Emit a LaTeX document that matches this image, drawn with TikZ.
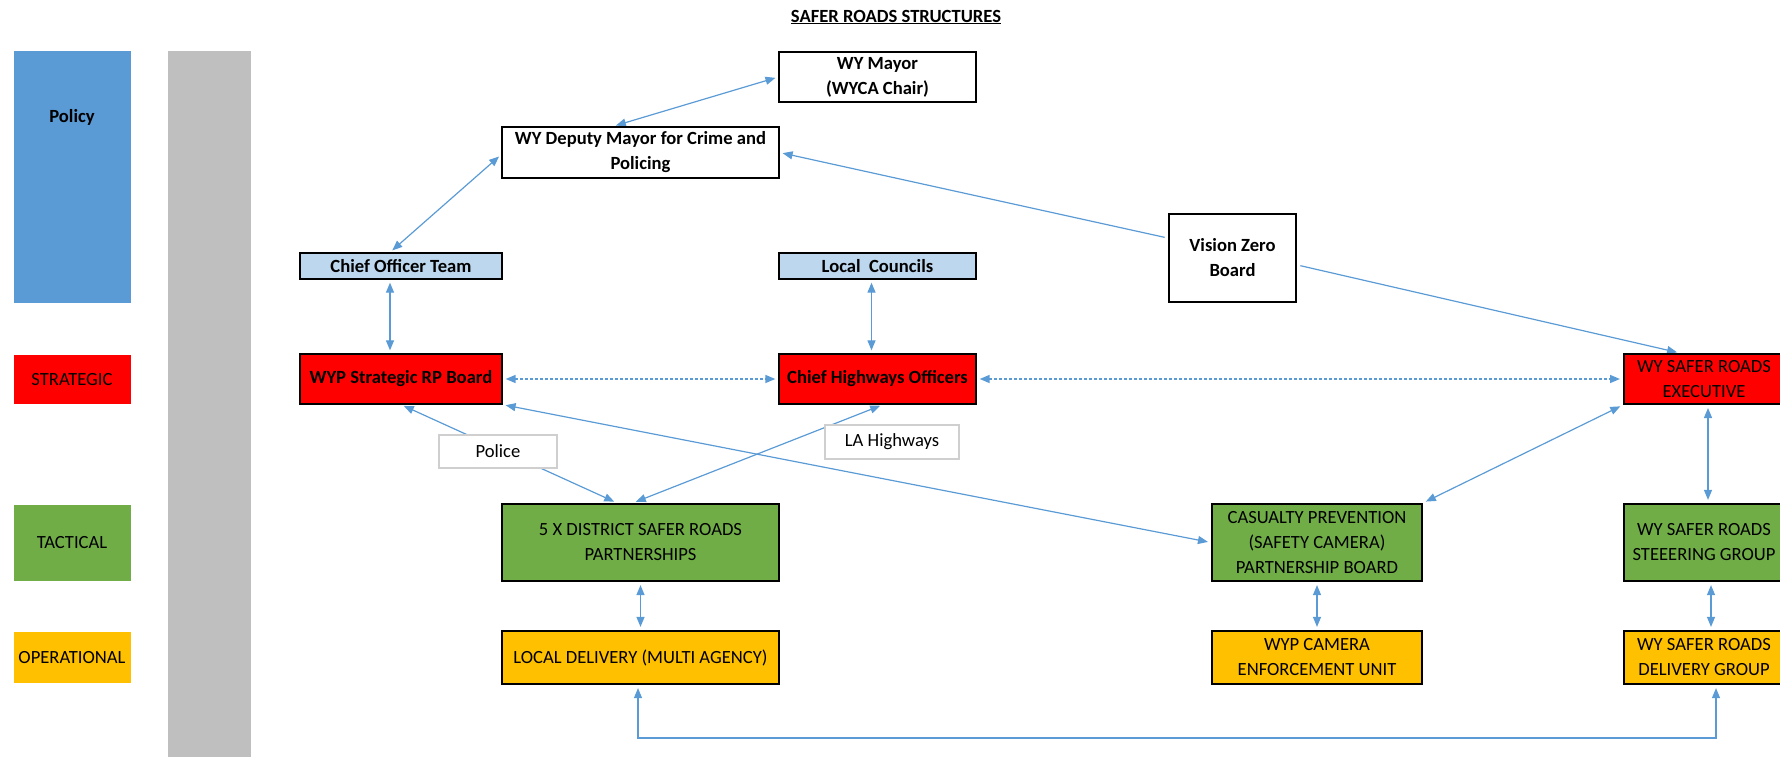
\documentclass[tikz,border=0pt]{standalone}
\usepackage{fontspec}
\setmainfont{Carlito}
\usetikzlibrary{arrows.meta,backgrounds}
\definecolor{polblue}{HTML}{5B9BD5}
\definecolor{lblue}{HTML}{BDD7EE}
\definecolor{sred}{HTML}{FF0000}
\definecolor{tgreen}{HTML}{70AD47}
\definecolor{oamber}{HTML}{FFC000}
\definecolor{bargray}{HTML}{BFBFBF}
\definecolor{conn}{HTML}{5B9BD5}
\definecolor{lblgray}{HTML}{CFCFCF}
\newcommand{\dfont}{\fontsize{18.6}{25}\selectfont}
\tikzset{
  txt/.style={font=\dfont, align=center, inner sep=0pt},
  box/.style={txt, draw=black, line width=1.3pt, rectangle},
  wbox/.style={box, fill=white, font=\dfont\bfseries},
  bluebox/.style={box, fill=lblue, font=\dfont\bfseries},
  redbox/.style={box, fill=sred, font=\dfont\bfseries},
  redplain/.style={box, fill=sred, line width=2pt},
  greenbox/.style={box, fill=tgreen, line width=2.2pt},
  amberbox/.style={box, fill=oamber, line width=2.2pt},
  lvl/.style={txt, rectangle, minimum width=117pt},
  tag/.style={txt, draw=lblgray, line width=1.5pt, fill=white},
  conn/.style={draw=conn, line width=1.2pt, shorten >=3pt, shorten <=3pt},
  biarrow/.style={conn, {Triangle[length=10pt,width=8pt]}-{Triangle[length=10pt,width=8pt]}},
  onearrow/.style={conn, -{Triangle[length=10pt,width=8pt]}},
  dasharrow/.style={biarrow, dash pattern=on 3pt off 2pt, line width=1.5pt}
}
\begin{document}
\begin{tikzpicture}[x=1pt,y=-1pt]
\useasboundingbox (0,0) rectangle (1780,757);

% title
\node[txt, font=\dfont\bfseries] (title) at (896,17) {\underline{SAFER ROADS STRUCTURES}};

% level column
\node[lvl, fill=polblue, minimum height=252pt] (policy) at (72,177) {};
\node[txt, font=\dfont\bfseries] (policytxt) at (72,117) {Policy};
\node[lvl, fill=sred, minimum height=49pt] (strategic) at (72,379.5) {STRATEGIC};
\node[lvl, fill=tgreen, minimum height=76pt] (tactical) at (72,543) {TACTICAL};
\node[lvl, fill=oamber, minimum height=51pt] (operational) at (72,657.5) {OPERATIONAL};
\node[rectangle, fill=bargray, minimum width=83pt, minimum height=712pt, inner sep=0pt] (bar) at (209.5,407) {};

% main nodes
\node[wbox, minimum width=197pt, minimum height=50pt] (mayor) at (877.5,77) {WY Mayor\\(WYCA Chair)};
\node[wbox, minimum width=277pt, minimum height=51pt] (deputy) at (640.5,152.5) {WY Deputy Mayor for Crime and\\Policing};
\node[bluebox, minimum width=202pt, minimum height=26pt] (cot) at (401,266) {Chief Officer Team};
\node[bluebox, minimum width=197pt, minimum height=26pt] (lc) at (877.5,266) {Local\ \ Councils};
\node[wbox, line width=2.8pt, minimum width=127pt, minimum height=88pt] (vz) at (1232.5,258) {Vision Zero\\Board};
\node[redbox, minimum width=202pt, minimum height=50pt] (wyp) at (401,379) {WYP Strategic RP Board};
\node[redbox, minimum width=197pt, minimum height=50pt] (cho) at (877.5,379) {Chief Highways Officers};
\node[redplain, minimum width=160pt, minimum height=50pt] (exec) at (1704,379) {WY SAFER ROADS\\EXECUTIVE};
\node[greenbox, minimum width=277pt, minimum height=77pt] (district) at (640.5,542.5) {5 X DISTRICT SAFER ROADS\\PARTNERSHIPS};
\node[greenbox, minimum width=210pt, minimum height=77pt] (cas) at (1317,542.5) {CASUALTY PREVENTION\\(SAFETY CAMERA)\\PARTNERSHIP BOARD};
\node[greenbox, minimum width=160pt, minimum height=77pt] (steer) at (1704,542.5) {WY SAFER ROADS\\STEEERING GROUP};
\node[amberbox, minimum width=277pt, minimum height=53pt] (local) at (640.5,657.5) {LOCAL DELIVERY (MULTI AGENCY)};
\node[amberbox, minimum width=210pt, minimum height=53pt] (cam) at (1317,657.5) {WYP CAMERA\\ENFORCEMENT UNIT};
\node[amberbox, minimum width=160pt, minimum height=53pt] (deliv) at (1704,657.5) {WY SAFER ROADS\\DELIVERY GROUP};
\coordinate (bot) at (1100,738);

% connectors
\begin{pgfonlayer}{background}
\draw[biarrow] ([xshift=-27.5pt]deputy.north) -- (mayor.west);
\draw[biarrow] ([xshift=-11pt]cot.north) -- ([yshift=-2pt]deputy.west);
\draw[onearrow] ([yshift=20pt]vz.west) -- (deputy.east);
\draw[onearrow] ([yshift=-7pt]vz.east) -- ([xshift=-24pt]exec.north);
\draw[biarrow] ([xshift=-11pt]cot.south) -- ([xshift=-11pt]wyp.north);
\draw[biarrow] ([xshift=-6pt]lc.south) -- ([xshift=-6pt]cho.north);
\draw[dasharrow] (wyp.east) -- (cho.west);
\draw[dasharrow] (cho.east) -- (exec.west);
\draw[biarrow] ([xshift=-23.5pt]district.north) -- (wyp.south);
\draw[biarrow] ([xshift=-7.5pt]district.north) -- ([xshift=5.5pt]cho.south);
\draw[biarrow] (wyp.south east) -- (cas.west);
\draw[biarrow] (cas.north east) -- (exec.south west);
\draw[biarrow] ([xshift=4pt]exec.south) -- ([xshift=4pt]steer.north);
\draw[biarrow] (cas.south) -- (cam.north);
\draw[biarrow] (district.south) -- (local.north);
\draw[biarrow] ([xshift=7pt]steer.south) -- ([xshift=7pt]deliv.north);
\draw[biarrow] ([xshift=-2.5pt]local.south) |- (bot) -| ([xshift=12pt]deliv.south);
\end{pgfonlayer}

% label boxes on lines
\node[tag, minimum width=118pt, minimum height=33pt] (police) at (498,451.5) {Police};
\node[tag, minimum width=134pt, minimum height=34pt] (lah) at (892,442) {LA Highways};
\end{tikzpicture}
\end{document}
